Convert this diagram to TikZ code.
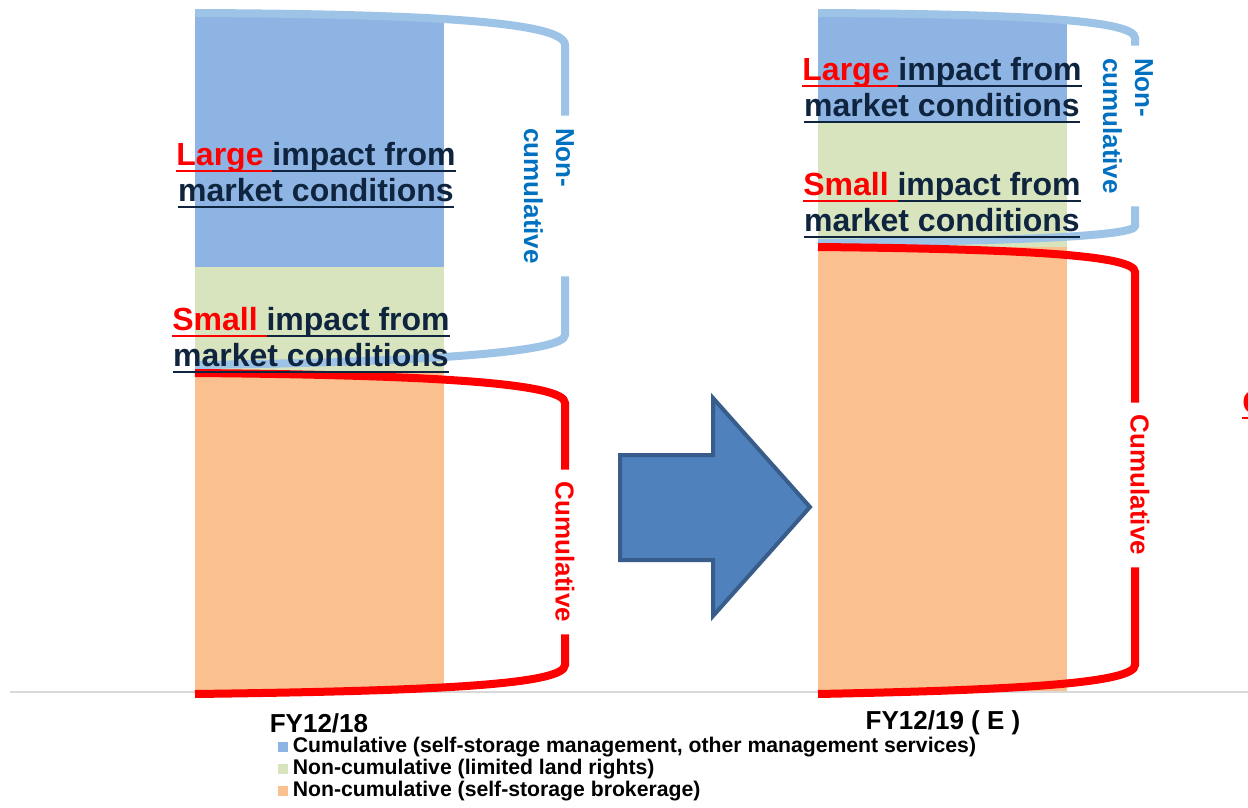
\documentclass[tikz,border=0pt]{standalone}
\usepackage{fontspec}
\setmainfont{Liberation Sans}
\usetikzlibrary{positioning}

\definecolor{cumblue}{HTML}{8EB4E3}
\definecolor{landgreen}{HTML}{D7E4BD}
\definecolor{brokorange}{HTML}{FAC090}
\definecolor{navytext}{HTML}{0F243E}
\definecolor{bracketblue}{HTML}{9DC3E6}
\definecolor{noncumblue}{HTML}{0070C0}
\definecolor{arrowfill}{HTML}{4F81BD}
\definecolor{arrowline}{HTML}{385D8A}

% underline in the current colour, a bit heavier than \underline
\newcommand{\undl}[1]{\setbox0\hbox{#1}\rlap{\rule[-3pt]{\wd0}{1pt}}\box0}
% red keyword, then the rest of the two-line remark
\newcommand{\impact}[1]{\textcolor{red}{\undl{#1 }}\undl{impact from}\\\undl{market conditions}}

\begin{document}
\begin{tikzpicture}[x=0.5pt, y=-0.5pt,
  impact/.style = {text=navytext, font=\fontsize{16}{18}\selectfont\bfseries, align=center},
  brace/.style = {line width=4pt},
  side/.style = {font=\fontsize{13}{16}\selectfont\bfseries, rotate=-90, inner sep=6pt},
  yearlabel/.style = {font=\fontsize{13}{15}\selectfont\bfseries},
  swatch/.style = {minimum size=5pt, inner sep=0pt},
  legend/.style = {font=\fontsize{10.6}{12}\selectfont\bfseries, inner sep=0pt}]
	\useasboundingbox (0,0) rectangle (1248,808);

	% stacked bars
	\fill[cumblue] (195,17) rectangle (444,267);
	\fill[landgreen] (195,267) rectangle (444,373);
	\fill[brokorange] (195,373) rectangle (444,692);
	\fill[cumblue] (818,17) rectangle (1067,122);
	\fill[landgreen] (818,122) rectangle (1067,247);
	\fill[brokorange] (818,247) rectangle (1067,692);
	\draw[gray!30, line width=1pt] (10,692) -- (1248,692);

	% side labels
	\node[side, text=noncumblue, align=left] (non1) at (549,196) {Non-\\cumulative};
	\node[side, text=red] (cum1) at (565,552) {Cumulative};
	\node[side, text=noncumblue, align=left] (non2) at (1128,126) {Non-\\cumulative};
	\node[side, text=red] (cum2) at (1140,485) {Cumulative};
	\coordinate (b1) at (565,0);
	\coordinate (b2) at (1135,0);

	% brackets
	\draw[brace, bracketblue] (195,13) .. controls (430,14) and (565,22) .. (565,45) -- (b1 |- non1.west);
	\draw[brace, bracketblue] (b1 |- non1.east) -- (565,335) .. controls (565,352) and (430,362) .. (195,365);
	\draw[brace, red] (195,373) .. controls (430,375) and (565,383) .. (565,403) -- (b1 |- cum1.west);
	\draw[brace, red] (b1 |- cum1.east) -- (565,665) .. controls (565,685) and (430,691) .. (195,694);
	\draw[brace, bracketblue] (818,13) .. controls (1020,14) and (1135,20) .. (1135,38) -- (b2 |- non2.west);
	\draw[brace, bracketblue] (b2 |- non2.east) -- (1135,226) .. controls (1135,236) and (1020,241) .. (818,243);
	\draw[brace, red] (818,247) .. controls (1020,249) and (1135,255) .. (1135,272) -- (b2 |- cum2.west);
	\draw[brace, red] (b2 |- cum2.east) -- (1135,665) .. controls (1135,683) and (1020,690) .. (818,694);

	% remarks on the bars, over the brackets
	\node[impact] (large1) at (316,175) {\impact{Large}};
	\node[impact] (small1) at (311,340) {\impact{Small}};
	\node[impact] (large2) at (942,90) {\impact{Large}};
	\node[impact] (small2) at (942,205) {\impact{Small}};

	% arrow between the years
	\draw[arrowline, fill=arrowfill, line width=2pt] (620,455) -- (713,455) -- (713,398) -- (810,507)
		-- (713,616) -- (713,560) -- (620,560) -- cycle;

	\node[impact, text=red, anchor=base west, inner sep=0pt] (edge) at (1242,413) {\undl{C}};

	% years and legend
	\node[yearlabel] (fy18) at (319,723) {FY12/18};
	\node[yearlabel] (fy19) at (943,723) {FY12/19 ( E )};
	\node[swatch, fill=cumblue] (sw1) at (283,747) {};
	\node[swatch, fill=landgreen] (sw2) at (283,769) {};
	\node[swatch, fill=brokorange] (sw3) at (283,791) {};
	\node[legend, right=2pt of sw1] (leg1) {Cumulative (self-storage management, other management services)};
	\node[legend, right=2pt of sw2] (leg2) {Non-cumulative (limited land rights)};
	\node[legend, right=2pt of sw3] (leg3) {Non-cumulative (self-storage brokerage)};
\end{tikzpicture}
\end{document}
